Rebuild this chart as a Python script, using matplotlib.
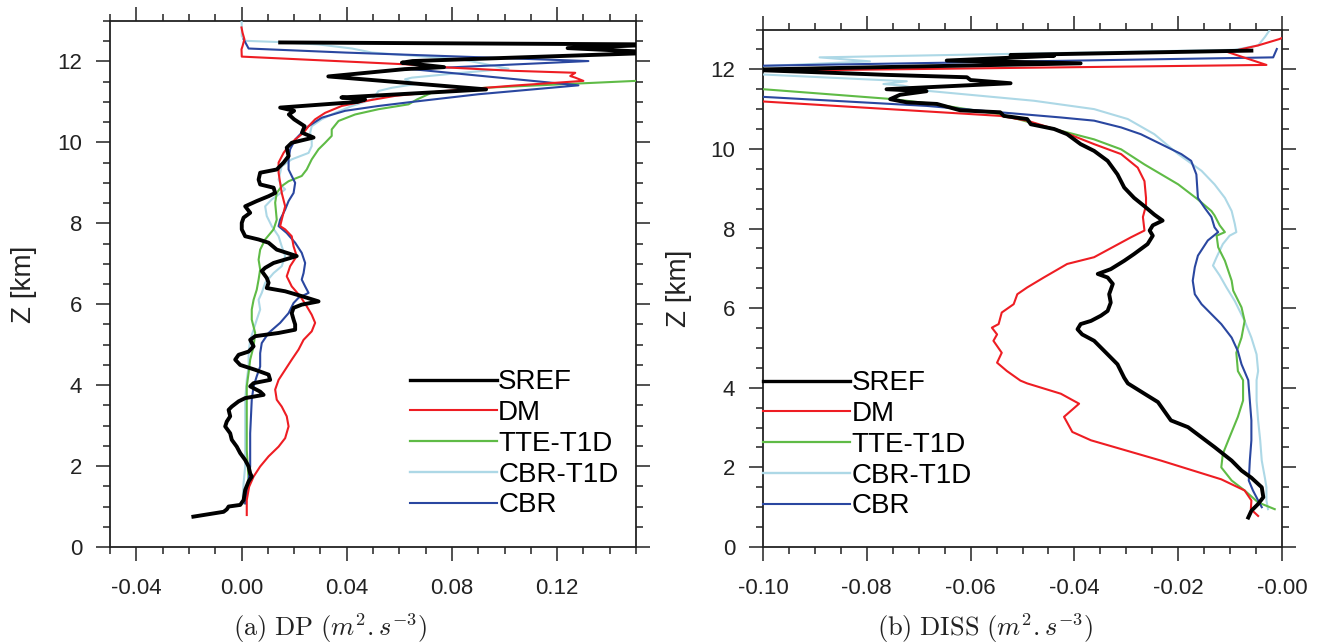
import matplotlib
matplotlib.use('Agg')
import matplotlib.pyplot as plt
from matplotlib.ticker import MultipleLocator, FormatStrFormatter
from matplotlib.lines import Line2D

plt.rcParams['font.family'] = ['Liberation Sans', 'DejaVu Sans']
plt.rcParams['mathtext.fontset'] = 'cm'
plt.rcParams['axes.unicode_minus'] = False

labels = ['SREF', 'DM', 'TTE-T1D', 'CBR-T1D', 'CBR']

# ---------------- (a) DP ----------------
dp_sref_x = [0.0147, 0.160, 0.124, 0.160, 0.065, 0.061, 0.077, 0.062, 0.033, 0.093, 0.038, 0.047, 0.044,
             0.0147, 0.020, 0.018, 0.020, 0.024, 0.023, 0.0274, 0.0191, 0.0172, 0.0179, 0.0160, 0.0134,
             0.0071, 0.0065, 0.0071, 0.0122, 0.0128, 0.0103, 0.0058, 0.0014, 0.0033, 0.0008, 0.0001,
             0.0001, 0.0014, 0.0065, 0.0103, 0.0134, 0.0210, 0.0122, 0.0090, 0.0077, 0.0096, 0.0103,
             0.0096, 0.0166, 0.0229, 0.0293, 0.0229, 0.0198, 0.0191, 0.0198, 0.0204, 0.0204, 0.0141,
             0.0052, 0.0033, 0.0046, 0.0027, -0.0011, -0.0024, -0.0005, 0.0052, 0.0103, 0.0109, 0.0046,
             0.0033, 0.0071, 0.0084, 0.0014, -0.0011, -0.0037, -0.0049, -0.0043, -0.0056, -0.0062,
             -0.0043, -0.0037, -0.0018, -0.0005, 0.0014, 0.0027, 0.0033, 0.0039, 0.0027, 0.0014, 0.0008,
             -0.0005, -0.0049, -0.0056, -0.0068, -0.0183]
dp_sref_z = [12.47, 12.42, 12.33, 12.22, 12.01, 11.97, 11.86, 11.81, 11.63, 11.31, 11.11, 11.06, 11.00,
             10.86, 10.78, 10.69, 10.57, 10.40, 10.24, 10.12, 9.99, 9.87, 9.66, 9.50, 9.33,
             9.25, 9.08, 8.96, 8.88, 8.75, 8.67, 8.55, 8.42, 8.26, 8.14, 8.01,
             7.85, 7.68, 7.60, 7.52, 7.35, 7.19, 7.02, 6.90, 6.82, 6.65, 6.53,
             6.40, 6.32, 6.20, 6.07, 5.99, 5.91, 5.78, 5.62, 5.50, 5.37, 5.29,
             5.21, 5.12, 4.96, 4.83, 4.75, 4.63, 4.50, 4.38, 4.26, 4.13, 4.05,
             3.97, 3.84, 3.76, 3.68, 3.60, 3.47, 3.39, 3.23, 3.10, 2.98,
             2.81, 2.65, 2.48, 2.32, 2.15, 1.99, 1.82, 1.74, 1.62, 1.41, 1.16,
             1.04, 1.00, 0.93, 0.87, 0.75]

dp_dm_x = [0.0, 0.0004, 0.0011, 0.0004, 0.0, 0.0001, 0.0622, 0.0787, 0.1028, 0.1269, 0.1250, 0.1269, 0.1300,
           0.1028, 0.0774, 0.0584, 0.0470, 0.0381, 0.0318, 0.0280, 0.0255, 0.0236, 0.0204, 0.0179, 0.0160,
           0.0141, 0.0141, 0.0147, 0.0153, 0.0166, 0.0153, 0.0147, 0.0166, 0.0191, 0.0198, 0.0210, 0.0185,
           0.0172, 0.0191, 0.0223, 0.0248, 0.0267, 0.0280, 0.0267, 0.0236, 0.0217, 0.0191, 0.0166, 0.0141,
           0.0128, 0.0134, 0.0153, 0.0172, 0.0179, 0.0166, 0.0141, 0.0103, 0.0071, 0.0046, 0.0029, 0.0020,
           0.0020]
dp_dm_z = [12.84, 12.71, 12.55, 12.38, 12.30, 12.12, 11.93, 11.85, 11.77, 11.72, 11.64, 11.60, 11.52,
           11.40, 11.27, 11.15, 11.02, 10.90, 10.73, 10.57, 10.40, 10.24, 10.07, 9.91, 9.74,
           9.50, 9.25, 9.00, 8.75, 8.42, 8.09, 7.93, 7.85, 7.68, 7.43, 7.19, 6.94,
           6.69, 6.44, 6.20, 5.95, 5.74, 5.54, 5.33, 5.12, 4.88, 4.63, 4.38, 4.13,
           3.89, 3.64, 3.47, 3.23, 2.98, 2.69, 2.48, 2.24, 1.99, 1.74, 1.49, 1.16,
           0.79]

dp_tte_x = [0.160, 0.0926, 0.0724, 0.0667, 0.0635, 0.0521, 0.0432, 0.0369, 0.0343, 0.0343, 0.0318, 0.0293,
            0.0267, 0.0248, 0.0229, 0.0179, 0.0153, 0.0134, 0.0128, 0.0134, 0.0122, 0.0090, 0.0071, 0.0065,
            0.0071, 0.0065, 0.0058, 0.0046, 0.0039, 0.0039, 0.0052, 0.0046, 0.0033, 0.0027, 0.0020, 0.0020,
            0.0020, 0.0027, 0.0020, 0.0014]
dp_tte_z = [11.55, 11.35, 11.23, 11.06, 10.94, 10.82, 10.69, 10.53, 10.32, 10.16, 9.99, 9.83,
            9.58, 9.33, 9.17, 9.04, 8.92, 8.75, 8.51, 8.09, 7.85, 7.60, 7.35, 7.10,
            6.86, 6.61, 6.36, 6.11, 5.87, 5.62, 5.29, 4.96, 4.63, 4.30, 3.97, 3.23,
            2.40, 1.66, 1.33, 1.08]

dp_cbrt_x = [0.0, 0.0001, 0.0001, 0.0014, 0.0141, 0.0293, 0.0420, 0.0496, 0.0838, 0.1015, 0.0838, 0.0648,
             0.0622, 0.0660, 0.0572, 0.0521, 0.0508, 0.0496, 0.0420, 0.0356, 0.0305, 0.0267, 0.0261, 0.0267,
             0.0267, 0.0255, 0.0191, 0.0153, 0.0147, 0.0141, 0.0153, 0.0166, 0.0141, 0.0115, 0.0090, 0.0096,
             0.0115, 0.0141, 0.0153, 0.0166, 0.0153, 0.0122, 0.0090, 0.0077, 0.0065, 0.0071, 0.0058, 0.0046,
             0.0033, 0.0027, 0.0027, 0.0020, 0.0014, 0.0014, 0.0014, 0.0008, 0.0005, 0.0008]
dp_cbrt_z = [13.04, 12.88, 12.63, 12.51, 12.48, 12.42, 12.32, 12.22, 12.05, 11.82, 11.72, 11.60,
             11.56, 11.44, 11.35, 11.27, 11.15, 11.06, 10.90, 10.73, 10.57, 10.40, 10.24, 10.07,
             9.91, 9.74, 9.58, 9.41, 9.25, 9.08, 8.92, 8.84, 8.71, 8.59, 8.42, 8.18,
             7.93, 7.68, 7.43, 7.19, 6.94, 6.77, 6.53, 6.28, 6.11, 5.87, 5.62, 5.37,
             5.12, 4.79, 4.46, 4.13, 3.64, 2.81, 1.99, 1.58, 1.25, 1.08]

dp_cbr_x = [0.0008, 0.0027, 0.0394, 0.1319, 0.0648, 0.1281, 0.0901, 0.0648, 0.0521, 0.0394, 0.0305, 0.0255,
            0.0229, 0.0204, 0.0185, 0.0179, 0.0179, 0.0191, 0.0204, 0.0198, 0.0179, 0.0166, 0.0147, 0.0141,
            0.0172, 0.0204, 0.0229, 0.0242, 0.0236, 0.0229, 0.0242, 0.0255, 0.0217, 0.0198, 0.0179, 0.0147,
            0.0103, 0.0077, 0.0071, 0.0071, 0.0058, 0.0046, 0.0039, 0.0033, 0.0033, 0.0027, 0.0020, 0.0014]
dp_cbr_z = [12.55, 12.32, 12.22, 12.01, 11.81, 11.41, 11.19, 11.00, 10.90, 10.78, 10.61, 10.40,
            10.24, 10.07, 9.83, 9.58, 9.33, 9.17, 9.00, 8.75, 8.55, 8.34, 8.09, 7.93,
            7.76, 7.52, 7.27, 7.02, 6.77, 6.61, 6.44, 6.28, 6.16, 6.03, 5.78, 5.54,
            5.29, 5.04, 4.79, 4.46, 4.22, 3.97, 3.64, 2.81, 1.99, 1.66, 1.33, 1.08]

# ---------------- (b) DISS ----------------
ds_sref_x = [-0.0059, -0.0523, -0.0439, -0.0646, -0.0388, -0.103, -0.0801, -0.0762, -0.0607, -0.0600,
             -0.0523, -0.0762, -0.0685, -0.0736, -0.0755, -0.0723, -0.0665, -0.0620, -0.0543, -0.0536,
             -0.0491, -0.0484, -0.0439, -0.0414, -0.0388, -0.0362, -0.0336, -0.0317, -0.0304, -0.0285,
             -0.0265, -0.0246, -0.0230, -0.0249, -0.0255, -0.0249, -0.0259, -0.0285, -0.0304, -0.0330,
             -0.0355, -0.0336, -0.0326, -0.0333, -0.0330, -0.0336, -0.0349, -0.0368, -0.0388, -0.0394,
             -0.0385, -0.0362, -0.0336, -0.0317, -0.0304, -0.0297, -0.0265, -0.0239, -0.0214, -0.0181,
             -0.0130, -0.0097, -0.0078, -0.0059, -0.0039, -0.0036, -0.0046, -0.0059, -0.0065]
ds_sref_z = [12.47, 12.36, 12.34, 12.22, 12.15, 11.99, 11.88, 11.86, 11.80, 11.73,
             11.65, 11.50, 11.45, 11.36, 11.25, 11.17, 11.13, 10.97, 10.92, 10.83,
             10.75, 10.62, 10.50, 10.37, 10.12, 9.95, 9.70, 9.36, 9.03, 8.77,
             8.56, 8.35, 8.20, 8.08, 7.95, 7.82, 7.61, 7.36, 7.19, 6.98,
             6.86, 6.77, 6.61, 6.35, 6.14, 5.93, 5.81, 5.68, 5.60, 5.47,
             5.34, 5.18, 4.84, 4.59, 4.25, 4.11, 3.85, 3.64, 3.18, 3.01,
             2.51, 2.17, 1.92, 1.74, 1.50, 1.25, 1.08, 0.91, 0.74]

ds_dm_x = [0.002, -0.0005, -0.0046, -0.0104, -0.0030, -0.12, -0.12, -0.0543, -0.0491, -0.0426, -0.0362,
           -0.0310, -0.0278, -0.0265, -0.0262, -0.0262, -0.0268, -0.0265, -0.0291, -0.0362, -0.0414,
           -0.0459, -0.0491, -0.0510, -0.0517, -0.0540, -0.0546, -0.0559, -0.0549, -0.0556, -0.0540,
           -0.0549, -0.0530, -0.0504, -0.0491, -0.0426, -0.0391, -0.0420, -0.0404, -0.0368, -0.0233,
           -0.0117, -0.0072, -0.0059, -0.0060, -0.0046]
ds_dm_z = [12.90, 12.76, 12.60, 12.43, 12.11, 11.93, 11.35, 10.83, 10.71, 10.45, 10.12,
           9.87, 9.53, 9.19, 8.77, 8.58, 8.29, 7.95, 7.78, 7.28, 7.11,
           6.77, 6.52, 6.35, 6.10, 5.89, 5.60, 5.51, 5.34, 5.18, 4.88,
           4.63, 4.42, 4.18, 4.11, 3.85, 3.60, 3.27, 2.89, 2.68, 2.17,
           1.70, 1.42, 1.17, 0.95, 0.78]

ds_tte_x = [-0.11, -0.0749, -0.0672, -0.0543, -0.0439, -0.0362, -0.0310, -0.0265, -0.0200, -0.0162, -0.0136,
            -0.0130, -0.0120, -0.0110, -0.0126, -0.0123, -0.0110, -0.0097, -0.0094, -0.0078, -0.0072,
            -0.0078, -0.0088, -0.0085, -0.0075, -0.0075, -0.0085, -0.0101, -0.0114, -0.0117, -0.0097,
            -0.0072, -0.0046, -0.0014]
ds_tte_z = [11.60, 11.25, 11.13, 10.87, 10.50, 10.24, 9.99, 9.61, 9.11, 8.73, 8.44,
            8.33, 8.08, 7.91, 7.82, 7.53, 7.19, 6.69, 6.44, 6.02, 5.68,
            5.26, 4.88, 4.42, 4.19, 3.68, 3.27, 2.76, 2.34, 2.00, 1.67,
            1.42, 1.12, 0.95]

ds_cbrt_x = [-0.0023, -0.0033, -0.0046, -0.0091, -0.0891, -0.0794, -0.105, -0.105, -0.0723, -0.0768, -0.0730,
             -0.0684, -0.0478, -0.0362, -0.0297, -0.0246, -0.0200, -0.0155, -0.0130, -0.0110, -0.0097,
             -0.0091, -0.0088, -0.0101, -0.0114, -0.0126, -0.0133, -0.0120, -0.0107, -0.0091, -0.0072,
             -0.0059, -0.0049, -0.0046, -0.0049, -0.0049, -0.0046, -0.0042, -0.0039, -0.0033, -0.0030,
             -0.0030, -0.0027]
ds_cbrt_z = [13.00, 12.81, 12.60, 12.49, 12.30, 12.20, 12.05, 11.90, 11.70, 11.63, 11.59,
             11.46, 11.21, 11.00, 10.75, 10.37, 9.87, 9.45, 9.11, 8.77, 8.44,
             8.12, 7.91, 7.82, 7.61, 7.28, 7.07, 6.82, 6.52, 6.18, 5.68,
             5.26, 4.84, 4.42, 4.19, 3.68, 3.18, 2.68, 2.17, 1.74, 1.50,
             1.17, 0.95]

ds_cbr_x = [-0.0010, -0.0017, -0.105, -0.11, -0.0684, -0.0543, -0.0426, -0.0362, -0.0310, -0.0272, -0.0233,
            -0.0194, -0.0175, -0.0165, -0.0162, -0.0149, -0.0136, -0.0130, -0.0123, -0.0143, -0.0162,
            -0.0168, -0.0172, -0.0168, -0.0155, -0.0136, -0.0117, -0.0097, -0.0085, -0.0078, -0.0065,
            -0.0062, -0.0059, -0.0059, -0.0062, -0.0064, -0.0056, -0.0046, -0.0039]
ds_cbr_z = [12.51, 12.30, 12.08, 11.38, 11.08, 10.92, 10.79, 10.71, 10.54, 10.37, 10.12,
            9.87, 9.70, 9.36, 8.77, 8.52, 8.29, 8.03, 7.91, 7.70, 7.32,
            7.03, 6.69, 6.35, 6.10, 5.85, 5.60, 5.26, 4.92, 4.59, 4.19,
            3.68, 3.18, 2.68, 2.17, 1.67, 1.42, 1.17, 1.00]

colors = ['black', '#EE1D23', '#5FBB46', '#ADD8E6', '#2A47A0']
widths = [2.8, 1.5, 1.5, 1.5, 1.5]
leg_widths = [2.4, 1.5, 1.6, 1.7, 1.5]

fig = plt.figure(figsize=(13.21, 6.43), dpi=100)
W, H = 1321.0, 643.0
ax1 = fig.add_axes([110 / W, (H - 547) / H, 526 / W, 526 / H])
ax2 = fig.add_axes([763 / W, (H - 547) / H, 519 / W, 517.5 / H])

panels = [
    (ax1, [(dp_sref_x, dp_sref_z), (dp_dm_x, dp_dm_z), (dp_tte_x, dp_tte_z),
           (dp_cbrt_x, dp_cbrt_z), (dp_cbr_x, dp_cbr_z)]),
    (ax2, [(ds_sref_x, ds_sref_z), (ds_dm_x, ds_dm_z), (ds_tte_x, ds_tte_z),
           (ds_cbrt_x, ds_cbrt_z), (ds_cbr_x, ds_cbr_z)]),
]
draw_order = [3, 2, 4, 1, 0]
for ax, series in panels:
    for i in draw_order:
        xs, zs = series[i]
        ax.plot(xs, zs, color=colors[i], lw=widths[i], solid_joinstyle='round', zorder=3 + (i == 0))

ax1.set_xlim(-0.05, 0.15)
ax2.set_xlim(-0.10, 0.0)
ax1.xaxis.set_major_locator(MultipleLocator(0.04))
ax1.xaxis.set_minor_locator(MultipleLocator(0.01))
ax2.xaxis.set_major_locator(MultipleLocator(0.02))
ax2.xaxis.set_minor_locator(MultipleLocator(0.005))

for ax in (ax1, ax2):
    ax.set_ylim(0, 13)
    ax.yaxis.set_major_locator(MultipleLocator(2))
    ax.yaxis.set_minor_locator(MultipleLocator(0.5))
    ax.xaxis.set_major_formatter(FormatStrFormatter('%.2f'))
    ax.yaxis.set_major_formatter(FormatStrFormatter('%d'))
    ax.tick_params(which='both', direction='out', top=True, right=True, width=1.1, colors='#222222')
    ax.tick_params(which='major', length=10, labelsize=16, labelcolor='#222222')
    ax.tick_params(which='minor', length=5)
    ax.tick_params(axis='x', which='major', pad=12)
    ax.tick_params(axis='y', which='major', pad=10)
    for sp in ax.spines.values():
        sp.set_linewidth(1.3)
        sp.set_color('#222222')

handles = [Line2D([], [], color=c, lw=w) for c, w in zip(colors, leg_widths)]
ax1.legend(handles, labels, loc='upper left', bbox_to_anchor=(0.570, 0.3375), frameon=False,
           fontsize=20, handlelength=3.13, handletextpad=0.05, labelspacing=0.17,
           borderpad=0, borderaxespad=0)
ax2.legend(handles, labels, loc='upper left', bbox_to_anchor=(0.0, 0.3413), frameon=False,
           fontsize=20, handlelength=3.13, handletextpad=0.05, labelspacing=0.17,
           borderpad=0, borderaxespad=0)

fig.text(24 / W, 1 - 284 / H, 'Z [km]', rotation=90, ha='center', va='center', fontsize=20, color='#222222')
fig.text(679 / W, 1 - 288 / H, 'Z [km]', rotation=90, ha='center', va='center', fontsize=20, color='#222222')
fig.text(330 / W, 1 - 628 / H, r'$\mathrm{(a)\ DP\ }(m^2.s^{-3})$', ha='center', va='center', fontsize=19,
         color='#222222')
fig.text(985 / W, 1 - 628 / H, r'$\mathrm{(b)\ DISS\ }(m^2.s^{-3})$', ha='center', va='center', fontsize=19,
         color='#222222')

fig.savefig('out.png', dpi=100)
